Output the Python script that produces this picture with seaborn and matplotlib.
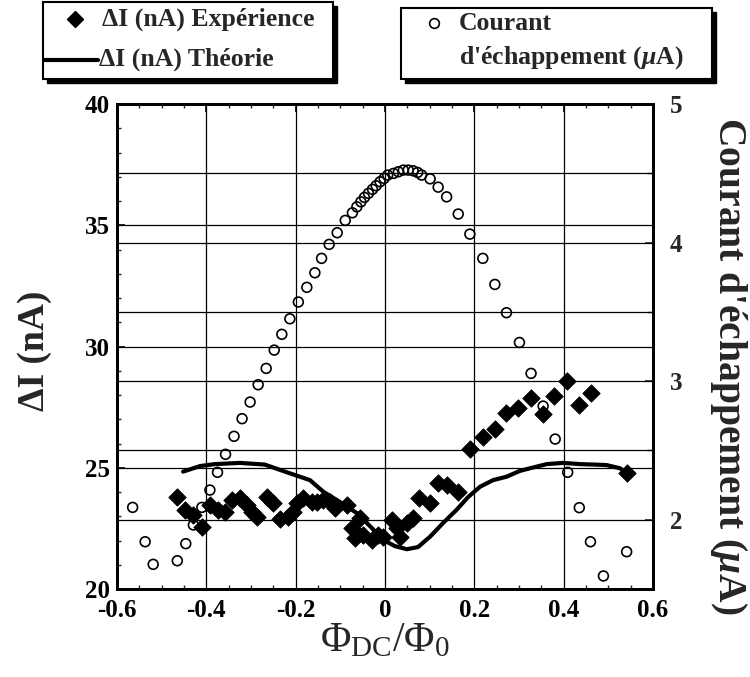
import numpy as np
import pandas as pd
import matplotlib
matplotlib.use("Agg")
import matplotlib.pyplot as plt
import seaborn as sns
from matplotlib.lines import Line2D
from matplotlib.patches import Rectangle
from matplotlib.ticker import MultipleLocator, FixedLocator

# ---------------- data ----------------
# Escape current (right axis, uA)
courant_x = [-0.565, -0.537, -0.519, -0.465, -0.446, -0.429, -0.410, -0.392, -0.375, -0.357,
             -0.338, -0.320, -0.302, -0.284, -0.266, -0.248, -0.231, -0.213, -0.194, -0.175,
             -0.157, -0.142, -0.125, -0.107, -0.089, -0.073, -0.063, -0.054, -0.046, -0.037,
             -0.028, -0.020, -0.011, -0.002, 0.006, 0.019, 0.030, 0.041, 0.052, 0.063,
             0.073, 0.082, 0.101, 0.119, 0.138, 0.164, 0.190, 0.219, 0.246, 0.272,
             0.301, 0.327, 0.354, 0.381, 0.409, 0.435, 0.460, 0.489, 0.541]
courant_y = [2.089, 1.841, 1.678, 1.704, 1.827, 1.962, 2.089, 2.214, 2.342, 2.472,
             2.602, 2.729, 2.849, 2.974, 3.092, 3.224, 3.338, 3.450, 3.571, 3.677,
             3.782, 3.886, 3.987, 4.071, 4.160, 4.215, 4.258, 4.294, 4.326, 4.355,
             4.384, 4.410, 4.439, 4.463, 4.487, 4.499, 4.511, 4.523, 4.523, 4.518,
             4.506, 4.487, 4.460, 4.400, 4.330, 4.206, 4.061, 3.886, 3.698, 3.494,
             3.279, 3.056, 2.820, 2.582, 2.342, 2.087, 1.841, 1.594, 1.769]

# Delta I experiment (left axis, nA)
exp_x = [-0.466, -0.448, -0.429, -0.410, -0.392, -0.373, -0.358, -0.343, -0.325, -0.310,
         -0.298, -0.287, -0.265, -0.250, -0.235, -0.217, -0.205, -0.196, -0.183, -0.164,
         -0.153, -0.138, -0.123, -0.112, -0.086, -0.075, -0.067, -0.056, -0.049, -0.030,
         -0.015, -0.004, 0.015, 0.026, 0.034, 0.049, 0.063, 0.075, 0.101, 0.119,
         0.138, 0.164, 0.190, 0.219, 0.246, 0.272, 0.298, 0.327, 0.353, 0.378,
         0.408, 0.434, 0.461, 0.541]
exp_y = [23.81, 23.26, 23.05, 22.57, 23.46, 23.26, 23.19, 23.67, 23.74, 23.46,
         23.19, 22.98, 23.81, 23.53, 22.87, 22.98, 23.19, 23.53, 23.74, 23.60,
         23.60, 23.67, 23.59, 23.34, 23.46, 22.50, 22.09, 22.92, 22.23, 22.02,
         22.23, 22.16, 22.85, 22.50, 22.16, 22.71, 22.92, 23.74, 23.53, 24.36,
         24.29, 24.01, 25.76, 26.26, 26.59, 27.27, 27.48, 27.86, 27.22, 27.96,
         28.59, 27.59, 28.09, 24.77]

# Delta I theory (left axis, nA)
theo_x = [-0.452, -0.414, -0.381, -0.325, -0.269, -0.213, -0.168, -0.138, -0.101, -0.063,
          -0.034, -0.004, 0.022, 0.049, 0.074, 0.101, 0.130, 0.160, 0.186, 0.213,
          0.242, 0.272, 0.302, 0.325, 0.362, 0.398, 0.437, 0.470, 0.496, 0.526, 0.541]
theo_y = [24.84, 25.07, 25.15, 25.20, 25.13, 24.77, 24.49, 24.01, 23.59, 23.13,
          22.60, 22.02, 21.77, 21.64, 21.73, 22.16, 22.72, 23.26, 23.79, 24.22,
          24.49, 24.63, 24.87, 24.98, 25.15, 25.20, 25.15, 25.13, 25.11, 24.98, 24.77]

x_ticks = [-0.6, -0.4, -0.2, 0, 0.2, 0.4, 0.6]
x_labels = ["-0.6", "-0.4", "-0.2", "0", "0.2", "0.4", "0.6"]
left_ticks = [20, 25, 30, 35, 40]
right_ticks = [2, 3, 4, 5]
legend_left = ["ΔI (nA) Expérience", "ΔI (nA) Théorie"]
legend_right = ["Courant", "d'échappement ($\\mu$A)"]

df_c = pd.DataFrame({"x": courant_x, "y": courant_y})
df_e = pd.DataFrame({"x": exp_x, "y": exp_y})
df_t = pd.DataFrame({"x": theo_x, "y": theo_y})

# ---------------- style ----------------
sns.set_theme(style="white")
plt.rcParams["font.family"] = ["Liberation Serif", "DejaVu Serif"]
plt.rcParams["font.weight"] = "bold"
plt.rcParams["mathtext.fontset"] = "custom"
plt.rcParams["mathtext.rm"] = "Liberation Serif:normal"
plt.rcParams["mathtext.it"] = "Liberation Serif:italic:bold"
plt.rcParams["mathtext.bf"] = "Liberation Serif:bold"

W, H = 750, 677
fig = plt.figure(figsize=(7.5, 6.77), dpi=100)
ax = fig.add_axes([117 / W, 1 - 589 / H, 536 / W, 485 / H])
ax2 = ax.twinx()

# left-axis data
sns.lineplot(data=df_t, x="x", y="y", ax=ax, color="black", linewidth=3.0,
             sort=False, estimator=None, zorder=4)
sns.scatterplot(data=df_e, x="x", y="y", ax=ax, marker="D", s=80, color="black",
                edgecolor="black", linewidth=0.5, zorder=5)
# right-axis data
sns.scatterplot(data=df_c, x="x", y="y", ax=ax2, marker="o", s=50,
                facecolor="none", edgecolor="black", linewidth=1.2, zorder=5)

ax.set_xlim(-0.6, 0.6)
ax.set_ylim(20, 40)
ax2.set_ylim(1.5, 5)

ax.xaxis.set_major_locator(FixedLocator(x_ticks))
ax.set_xticklabels(x_labels)
ax.xaxis.set_minor_locator(MultipleLocator(0.05))
ax.yaxis.set_major_locator(FixedLocator(left_ticks))
ax.yaxis.set_minor_locator(MultipleLocator(1))
ax2.yaxis.set_major_locator(FixedLocator(right_ticks))
ax2.yaxis.set_minor_locator(FixedLocator([2.5, 3.5, 4.5]))

# grids
ax.grid(False)
ax2.grid(False)
for xv in x_ticks[1:-1]:
    ax.axvline(xv, color="black", lw=0.9, zorder=1)
for yv in left_ticks[1:-1]:
    ax.axhline(yv, color="black", lw=0.9, zorder=1)
for yv in [2, 2.5, 3, 3.5, 4, 4.5]:
    ax2.axhline(yv, color="black", lw=0.9, zorder=1)

ax.tick_params(axis="x", which="major", direction="in", length=6, width=1.2,
               labelsize=18, top=True, colors="black", pad=7)
ax.tick_params(axis="y", which="major", direction="in", length=6, width=1.2,
               labelsize=18, colors="black", pad=5)
ax.tick_params(axis="both", which="minor", direction="in", length=3, width=1,
               top=True, bottom=True, left=True)
ax.tick_params(axis="y", which="both", right=False)
ax2.tick_params(axis="y", which="major", direction="in", length=6, width=1.2,
                labelsize=18, pad=12)
ax2.tick_params(axis="y", which="minor", direction="in", length=4, width=1)
for lab in ax.get_xticklabels() + ax.get_yticklabels() + ax2.get_yticklabels():
    lab.set_fontweight("bold")

for a in (ax, ax2):
    for sp in a.spines.values():
        sp.set_linewidth(2)
        sp.set_color("black")

ax.set_xlabel(r"$\Phi_{\mathrm{DC}}/\Phi_0$", fontsize=30, labelpad=0)
ax.set_ylabel("ΔI (nA)", fontsize=27, fontweight="bold", rotation=90,
              va="center", ha="center")
ax.yaxis.set_label_coords((35 - 117) / 536, (589 - 351) / 485)
ax2.set_ylabel("Courant d'échappement ($\\mu$A)", fontsize=28.5, fontweight="bold",
               rotation=270, va="center", ha="center")
ax2.yaxis.set_label_coords((729 - 117) / 536, (589 - 366) / 485)


# ---------------- legends (drawn as boxes with shadow) ----------------
def fx(px):
    return px / W


def fy(py):
    return 1 - py / H


def box(x0, y0, x1, y1):
    sh = Rectangle((fx(x0 + 4), fy(y1 + 4)), fx(x1 - x0), (y1 - y0) / H,
                   transform=fig.transFigure, facecolor="black", edgecolor="black",
                   zorder=20)
    fr = Rectangle((fx(x0), fy(y1)), fx(x1 - x0), (y1 - y0) / H,
                   transform=fig.transFigure, facecolor="white", edgecolor="black",
                   linewidth=1.5, zorder=21)
    fig.add_artist(sh)
    fig.add_artist(fr)


box(43, 2, 333, 79)
fig.add_artist(Line2D([fx(75)], [fy(19)], transform=fig.transFigure, marker="D",
                      color="black", ms=8, ls="none", zorder=22))
fig.add_artist(Line2D([fx(44), fx(98)], [fy(60), fy(60)], transform=fig.transFigure,
                      color="black", lw=3.0, zorder=22))
fig.text(fx(102), fy(19), legend_left[0], fontsize=18.5, fontweight="bold",
         va="center", ha="left", zorder=23)
fig.text(fx(99), fy(59), legend_left[1], fontsize=18.5, fontweight="bold",
         va="center", ha="left", zorder=23)

box(401, 8, 712, 79)
fig.add_artist(Line2D([fx(434)], [fy(23)], transform=fig.transFigure, marker="o",
                      mfc="none", mec="black", mew=1.2, ms=7, ls="none", zorder=22))
fig.text(fx(459), fy(23), legend_right[0], fontsize=18.5, fontweight="bold",
         va="center", ha="left", zorder=23)
fig.text(fx(459), fy(58), legend_right[1], fontsize=18.5, fontweight="bold",
         va="center", ha="left", zorder=23)

fig.savefig("out.png", dpi=100)
